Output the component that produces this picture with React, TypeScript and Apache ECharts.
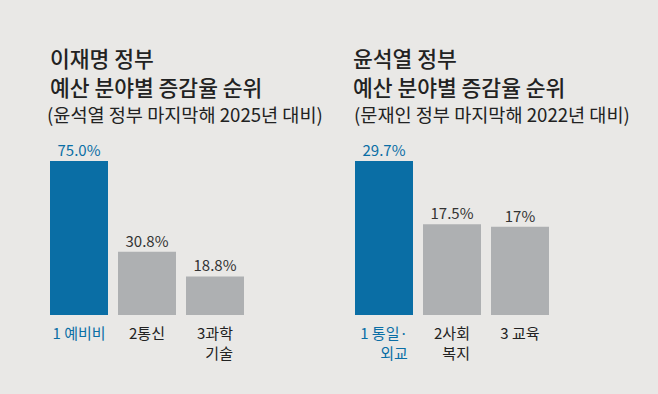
import React, { useEffect, useRef } from "react";
import * as echarts from "echarts";

const leftTitle = ["이재명 정부", "예산 분야별 증감율 순위", "(윤석열 정부 마지막해 2025년 대비)"];
const rightTitle = ["윤석열 정부", "예산 분야별 증감율 순위", "(문재인 정부 마지막해 2022년 대비)"];

const leftCategories = ["1 예비비", "2통신", "3과학\n{r|기술}"];
const leftValues = [75.0, 30.8, 18.8];
const leftLabels = ["75.0%", "30.8%", "18.8%"];

const rightCategories = ["1 통일·\n{r|외교}", "2사회\n{r|복지}", "3 교육"];
const rightValues = [29.7, 17.5, 17];
const rightLabels = ["29.7%", "17.5%", "17%"];

const BLUE = "#0a6ea5";
const GRAY = "#aeb0b2";
const BG = "#e9e8e6";
const TEXT = "#222222";
const FONT = "'Noto Sans CJK KR', 'Noto Sans', sans-serif";

function titleTexts(lines: string[], x: number, x3: number) {
  return [
    { type: "text", left: x, top: 47, style: { text: lines[0], font: `500 21.5px ${FONT}`, fill: TEXT } },
    { type: "text", left: x, top: 76, style: { text: lines[1], font: `500 21.5px ${FONT}`, fill: TEXT } },
    { type: "text", left: x3, top: 104, style: { text: lines[2], font: `normal 18.6px ${FONT}`, fill: TEXT } },
  ];
}

export default function App() {
  const ref = useRef<HTMLDivElement>(null);
  useEffect(() => {
    document.body.style.margin = "0";
    if (!ref.current) return;
    const chart = echarts.init(ref.current, null, { renderer: "svg" });
    const mkX = (gridIndex: number, cats: string[]) => ({
      type: "category",
      gridIndex,
      data: cats,
      axisLine: { show: false },
      axisTick: { show: false },
      axisLabel: {
        interval: 0,
        margin: 7,
        fontSize: 15,
        fontFamily: FONT,
        lineHeight: 20,
        color: (v: string, i: number) => (i === 0 ? BLUE : TEXT),
        rich: { r: { align: "right", fontSize: 15, fontFamily: FONT, lineHeight: 20 } },
      },
    });
    const mkSeries = (idx: number, vals: number[], labels: string[]) => ({
      type: "bar",
      xAxisIndex: idx,
      yAxisIndex: idx,
      barWidth: 58,
      data: vals.map((v, i) => ({
        value: v,
        itemStyle: { color: i === 0 ? BLUE : GRAY },
        label: { color: i === 0 ? BLUE : "#333333" },
      })),
      label: {
        show: true,
        position: "top",
        distance: 4,
        fontSize: 15,
        fontFamily: FONT,
        formatter: (p: any) => labels[p.dataIndex],
      },
    });
    chart.setOption({
      animation: false,
      backgroundColor: BG,
      grid: [
        { left: 45, width: 204, top: 161, height: 154 },
        { left: 350, width: 204, top: 161, height: 154 },
      ],
      xAxis: [mkX(0, leftCategories), mkX(1, rightCategories)],
      yAxis: [
        { type: "value", gridIndex: 0, min: 0, max: 75, show: false },
        { type: "value", gridIndex: 1, min: 0, max: 29.7, show: false },
      ],
      series: [mkSeries(0, leftValues, leftLabels), mkSeries(1, rightValues, rightLabels)],
      graphic: [...titleTexts(leftTitle, 50, 47), ...titleTexts(rightTitle, 353, 354)],
    });
    return () => chart.dispose();
  }, []);
  return <div ref={ref} style={{ width: 658, height: 394 }} />;
}
